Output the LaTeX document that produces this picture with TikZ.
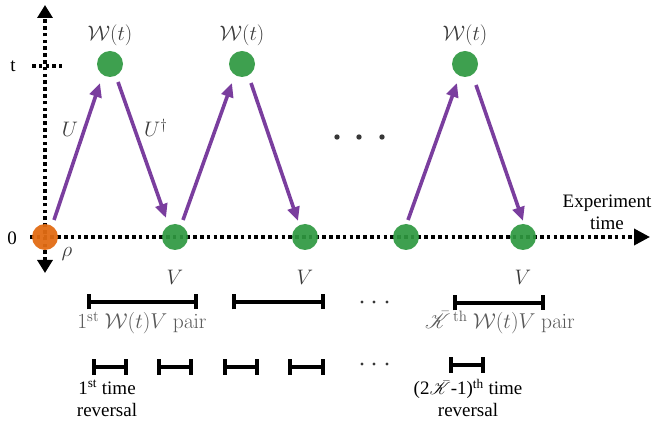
\RequirePackage{fix-cm}
\documentclass[tikz,border=0pt]{standalone}
\usepackage{amsmath}
\usepackage{mathrsfs}
\usepackage[no-math]{fontspec}
\setmainfont{Liberation Serif}
\usetikzlibrary{arrows.meta,calc}
\definecolor{dotgreen}{RGB}{46,152,64}
\definecolor{dotorange}{RGB}{226,108,20}
\definecolor{evopurple}{RGB}{122,62,158}
\definecolor{labgray}{RGB}{60,60,60}
\definecolor{pairgray}{RGB}{90,90,90}
\definecolor{ellgray}{RGB}{55,55,55}
\begin{document}
\begin{tikzpicture}[x=1pt,y=-1pt,
  axis/.style={line width=3.6pt,dash pattern=on 3.6pt off 3.2pt},
  dotg/.style={circle,fill=dotgreen,fill opacity=0.92,minimum size=26pt,inner sep=0},
  doto/.style={circle,fill=dotorange,fill opacity=0.95,minimum size=26pt,inner sep=0},
  evo/.style={draw=evopurple,line width=3.6pt,-{Triangle[length=14pt,width=12pt]}},
  mlab/.style={inner sep=0,text=labgray,font=\fontsize{21}{25}\selectfont},
  txt/.style={inner sep=0,font=\fontsize{19}{22}\selectfont},
  pairlab/.style={inner sep=0,text=pairgray,font=\fontsize{21.5}{25}\selectfont,anchor=base},
  spanbar/.style={line width=3.8pt,{Bar[width=15pt]}-{Bar[width=15pt]}},
  ell/.style={circle,fill=ellgray,inner sep=0},
]
\useasboundingbox (0,0) rectangle (653,427);

% axes
\draw[axis,{Triangle[length=13pt,width=15pt]}-{Triangle[length=13pt,width=15pt]}] (45,273) -- (45,5);
\draw[axis] (32,66) -- (62,66);
\draw[axis,-{Triangle[length=16pt,width=16pt]}] (30,237) -- (650,237);

\node[txt,anchor=base] (lt) at (13,72) {t};
\node[txt,anchor=base] (l0) at (12,245) {0};
\node[txt,align=center] (exp) at (607,212) {Experiment\\time};

% dots
\node[doto] (rho) at (45,237) {};
\node[dotg] (W1) at (110,64) {};
\node[dotg] (W2) at (242,64) {};
\node[dotg] (W3) at (465,64) {};
\node[dotg] (V1) at (175,237) {};
\node[dotg] (V2) at (305,237) {};
\node[dotg] (X) at (406,237) {};
\node[dotg] (V3) at (523,237) {};

% labels
\node[mlab] (lW1) at (110,35) {$\mathcal{W}(t)$};
\node[mlab] (lW2) at (242,35) {$\mathcal{W}(t)$};
\node[mlab] (lW3) at (465,35) {$\mathcal{W}(t)$};
\node[mlab,anchor=base] (lV1) at (175,285) {$V$};
\node[mlab,anchor=base] (lV2) at (305,285) {$V$};
\node[mlab,anchor=base] (lV3) at (523,285) {$V$};
\node[mlab,anchor=base] (lrho) at (67,257) {$\rho$};
\node[mlab,anchor=base] (lU) at (70,137) {$U$};
\node[mlab,anchor=base west] (lUd) at (144,137) {$U^\dagger$};

% evolutions
\draw[evo] ($(rho)+(9,-17)$) -- ($(W1)+(-10,19)$);
\draw[evo] ($(W1)+(8,18)$) -- ($(V1)+(-9,-19)$);
\draw[evo] ($(V1)+(8,-17)$) -- ($(W2)+(-10,19)$);
\draw[evo] ($(W2)+(9,19)$) -- ($(V2)+(-7,-16)$);
\draw[evo] ($(X)+(2,-17)$) -- ($(W3)+(-8,19)$);
\draw[evo] ($(W3)+(11,21)$) -- ($(V3)+(0,-16)$);

% ellipsis
\foreach \x in {337,359,382} \node[ell,minimum size=5.4pt] at (\x,137) {};
\foreach \x in {362,374,387} {
  \node[ell,minimum size=3.4pt] at (\x,302) {};
  \node[ell,minimum size=3.4pt] at (\x,364) {};
}

% spans
\draw[spanbar] (87,302) -- (198,302);
\draw[spanbar] (232,302) -- (325,302);
\draw[spanbar] (453,303) -- (545,303);
\draw[spanbar] (92,367) -- (128,367);
\draw[spanbar] (157,367) -- (193,367);
\draw[spanbar] (223,367) -- (259,367);
\draw[spanbar] (288,367) -- (325,367);
\draw[spanbar] (449,365) -- (485,365);

\node[pairlab] (p1) at (142,329) {$1^{\mathrm{st}}\ \mathcal{W}(t)V\ \mathrm{pair}$};
\node[pairlab] (pK) at (500,329) {$\bar{\mathscr{K}}^{\,\mathrm{th}}\ \mathcal{W}(t)V\ \mathrm{pair}$};
\node[txt,align=center] (r1) at (107,398) {1\textsuperscript{st} time\\reversal};
\node[txt,align=center] (rK) at (468,398) {(2$\bar{\mathscr{K}}$-1)\textsuperscript{th} time\\reversal};
\end{tikzpicture}
\end{document}
